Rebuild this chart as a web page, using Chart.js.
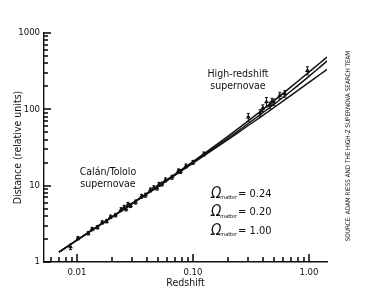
<!DOCTYPE html>
<html lang="en"><head>
<meta charset="utf-8">
<script src="https://cdn.jsdelivr.net/npm/chart.js@4.4.1/dist/chart.umd.min.js"></script>
<style>
  html, body { margin: 0; padding: 0; background: #fff; }
  #wrap { width: 367px; height: 296px; position: relative; }
</style>
</head>
<body>
<div id="wrap"><canvas id="myChart"></canvas></div>
<script>
  // model curves (redshift -> distance, relative units)
  const modelZ   = [0.007, 0.01, 0.02, 0.05, 0.1, 0.2, 0.3, 0.5, 0.7, 1.0, 1.25, 1.45];
  const dist024  = [1.35, 1.94, 3.90, 9.99, 20.7, 44.3, 70.5, 129.8, 196.5, 307.6, 407.8, 491.9];
  const dist020  = [1.35, 1.93, 3.88, 9.82, 20.1, 41.8, 65.2, 116.6, 174.0, 270.7, 360.4, 437.7];
  const dist100  = [1.35, 1.93, 3.86, 9.72, 19.7, 40.2, 61.4, 105.7, 152.1, 224.9, 288.0, 339.7];

  // supernovae
  const snZ    = [0.0088, 0.0102, 0.0125, 0.0135, 0.015, 0.0165, 0.018, 0.0195, 0.0215, 0.024,
                  0.0255, 0.0265, 0.0275, 0.029, 0.032, 0.036, 0.039, 0.043, 0.046, 0.049,
                  0.051, 0.054, 0.058, 0.066, 0.075, 0.078, 0.087, 0.1, 0.124,
                  0.3, 0.38, 0.40, 0.43, 0.46, 0.48, 0.5, 0.56, 0.62, 0.97];
  const snDist = [1.58, 2.05, 2.38, 2.70, 2.85, 3.30, 3.42, 3.90, 4.10, 4.85,
                  5.20, 4.95, 5.65, 5.50, 6.10, 7.25, 7.50, 8.80, 9.40, 9.30,
                  10.4, 10.5, 11.9, 12.9, 15.6, 15.3, 18.1, 20.2, 26.0,
                  79, 90, 104, 125, 113, 127, 124, 152, 160, 322];
  const snErr  = [0.08, 0.05, 0.05, 0.05, 0.05, 0.05, 0.05, 0.05, 0.05, 0.06,
                  0.06, 0.06, 0.07, 0.06, 0.06, 0.06, 0.06, 0.06, 0.06, 0.06,
                  0.06, 0.06, 0.06, 0.06, 0.06, 0.06, 0.06, 0.06, 0.06,
                  0.12, 0.10, 0.10, 0.14, 0.10, 0.10, 0.10, 0.10, 0.10, 0.12];

  const xTickVals  = [0.01, 0.1, 1];
  const xTickText  = ['0.01', '0.10', '1.00'];
  const yTickVals  = [1, 10, 100, 1000];
  const yTickText  = ['1', '10', '100', '1000'];
  const omegaVals  = ['0.24', '0.20', '1.00'];

  const FONT = "'Liberation Sans Narrow', 'DejaVu Sans Condensed', 'Liberation Sans', sans-serif";
  const INK = '#111';

  const pts = snZ.map((z, i) => ({x: z, y: snDist[i]}));
  const line = (arr) => modelZ.map((z, i) => ({x: z, y: arr[i]}));

  // inward minor/major ticks, error bars and text labels
  const extras = {
    id: 'extras',
    afterDraw(chart) {
      const c = chart.ctx, xs = chart.scales.x, ys = chart.scales.y;
      const a = chart.chartArea;
      c.save();
      c.strokeStyle = '#000';
      c.lineWidth = 1.5;
      for (let e = -3; e <= 0; e++) {
        for (let m = 1; m <= 9; m++) {
          const v = m * Math.pow(10, e);
          if (v < xs.min || v > xs.max) continue;
          const px = Math.round(xs.getPixelForValue(v));
          const len = m === 1 ? 8 : 5;
          c.beginPath(); c.moveTo(px, a.bottom); c.lineTo(px, a.bottom - len); c.stroke();
        }
      }
      for (let e = 0; e <= 3; e++) {
        for (let m = 1; m <= 9; m++) {
          const v = m * Math.pow(10, e);
          if (v < ys.min || v > ys.max) continue;
          const py = Math.round(ys.getPixelForValue(v));
          const len = m === 1 ? 7 : 4;
          c.beginPath(); c.moveTo(a.left, py); c.lineTo(a.left + len, py); c.stroke();
        }
      }

      c.lineWidth = 1;
      c.strokeStyle = INK;
      snZ.forEach((z, i) => {
        const px = xs.getPixelForValue(z);
        const y0 = ys.getPixelForValue(snDist[i] * (1 - snErr[i]));
        const y1 = ys.getPixelForValue(snDist[i] * (1 + snErr[i]));
        c.beginPath();
        c.moveTo(px, y0); c.lineTo(px, y1);
        c.moveTo(px - 1.5, y0); c.lineTo(px + 1.5, y0);
        c.moveTo(px - 1.5, y1); c.lineTo(px + 1.5, y1);
        c.stroke();
      });

      c.fillStyle = INK;
      c.textAlign = 'center';
      c.textBaseline = 'middle';
      c.font = '10.5px ' + FONT;
      c.fillText('Calán/Tololo', 108, 172);
      c.fillText('supernovae', 108, 184);
      c.fillText('High-redshift', 238, 74);
      c.fillText('supernovae', 238, 86);

      c.textAlign = 'left';
      omegaVals.forEach((v, i) => {
        const y = 194 + i * 18.5;
        c.font = 'italic 15px ' + FONT;
        c.fillText('Ω', 211, y);
        const w = c.measureText('Ω').width;
        c.font = '5.5px ' + FONT;
        c.fillText('matter', 211 + w - 1, y + 4);
        const w2 = c.measureText('matter').width;
        c.font = '11px ' + FONT;
        c.fillText('= ' + v, 211 + w + w2, y);
      });

      c.translate(348, 146);
      c.rotate(-Math.PI / 2);
      c.textAlign = 'center';
      c.font = '6.3px ' + FONT;
      c.fillText('SOURCE: ADAM RIESS AND THE HIGH-Z SUPERNOVA SEARCH TEAM', 0, 0);
      c.restore();
    }
  };

  const myChart = new Chart(document.getElementById('myChart'), {
    type: 'scatter',
    data: {
      datasets: [
        { label: 'Ωmatter = 0.24', data: line(dist024), showLine: true, borderColor: INK, borderWidth: 1.5, pointRadius: 0, tension: 0.3 },
        { label: 'Ωmatter = 0.20', data: line(dist020), showLine: true, borderColor: INK, borderWidth: 1.5, pointRadius: 0, tension: 0.3 },
        { label: 'Ωmatter = 1.00', data: line(dist100), showLine: true, borderColor: INK, borderWidth: 1.5, pointRadius: 0, tension: 0.3 },
        { label: 'Supernovae', data: pts, showLine: false, pointStyle: 'triangle', pointRadius: 2.8,
          backgroundColor: INK, borderColor: INK, borderWidth: 0 }
      ]
    },
    options: {
      responsive: true,
      maintainAspectRatio: false,
      animation: false,
      layout: { padding: { top: 33, right: 40, left: 0, bottom: 0 } },
      plugins: { legend: { display: false }, tooltip: { enabled: false } },
      scales: {
        x: {
          type: 'logarithmic',
          min: 0.0052, max: 1.43,
          grid: { display: false, drawTicks: false },
          border: { display: true, color: INK, width: 1.4 },
          afterBuildTicks: (s) => { s.ticks = xTickVals.map(v => ({ value: v })); },
          afterFit: (s) => { s.height = 34; },
          ticks: {
            autoSkip: false, maxRotation: 0, padding: 5, color: INK,
            font: { family: FONT, size: 9.5 },
            callback: (v) => { const i = xTickVals.indexOf(v); return i >= 0 ? xTickText[i] : ''; }
          },
          title: { display: true, text: 'Redshift', color: INK, font: { family: FONT, size: 10.5 }, padding: { top: 0, bottom: 6 } }
        },
        y: {
          type: 'logarithmic',
          min: 1, max: 1000,
          grid: { display: false, drawTicks: false },
          border: { display: true, color: INK, width: 1.4 },
          afterBuildTicks: (s) => { s.ticks = yTickVals.map(v => ({ value: v })); },
          afterFit: (s) => { s.width = 44; },
          ticks: {
            autoSkip: false, padding: 4, color: INK,
            font: { family: FONT, size: 9.5 },
            callback: (v) => { const i = yTickVals.indexOf(v); return i >= 0 ? yTickText[i] : ''; }
          },
          title: { display: true, text: 'Distance (relative units)', color: INK, font: { family: FONT, size: 10.5 }, padding: { top: 12, bottom: 0 } }
        }
      }
    },
    plugins: [extras]
  });
</script>
</body></html>
